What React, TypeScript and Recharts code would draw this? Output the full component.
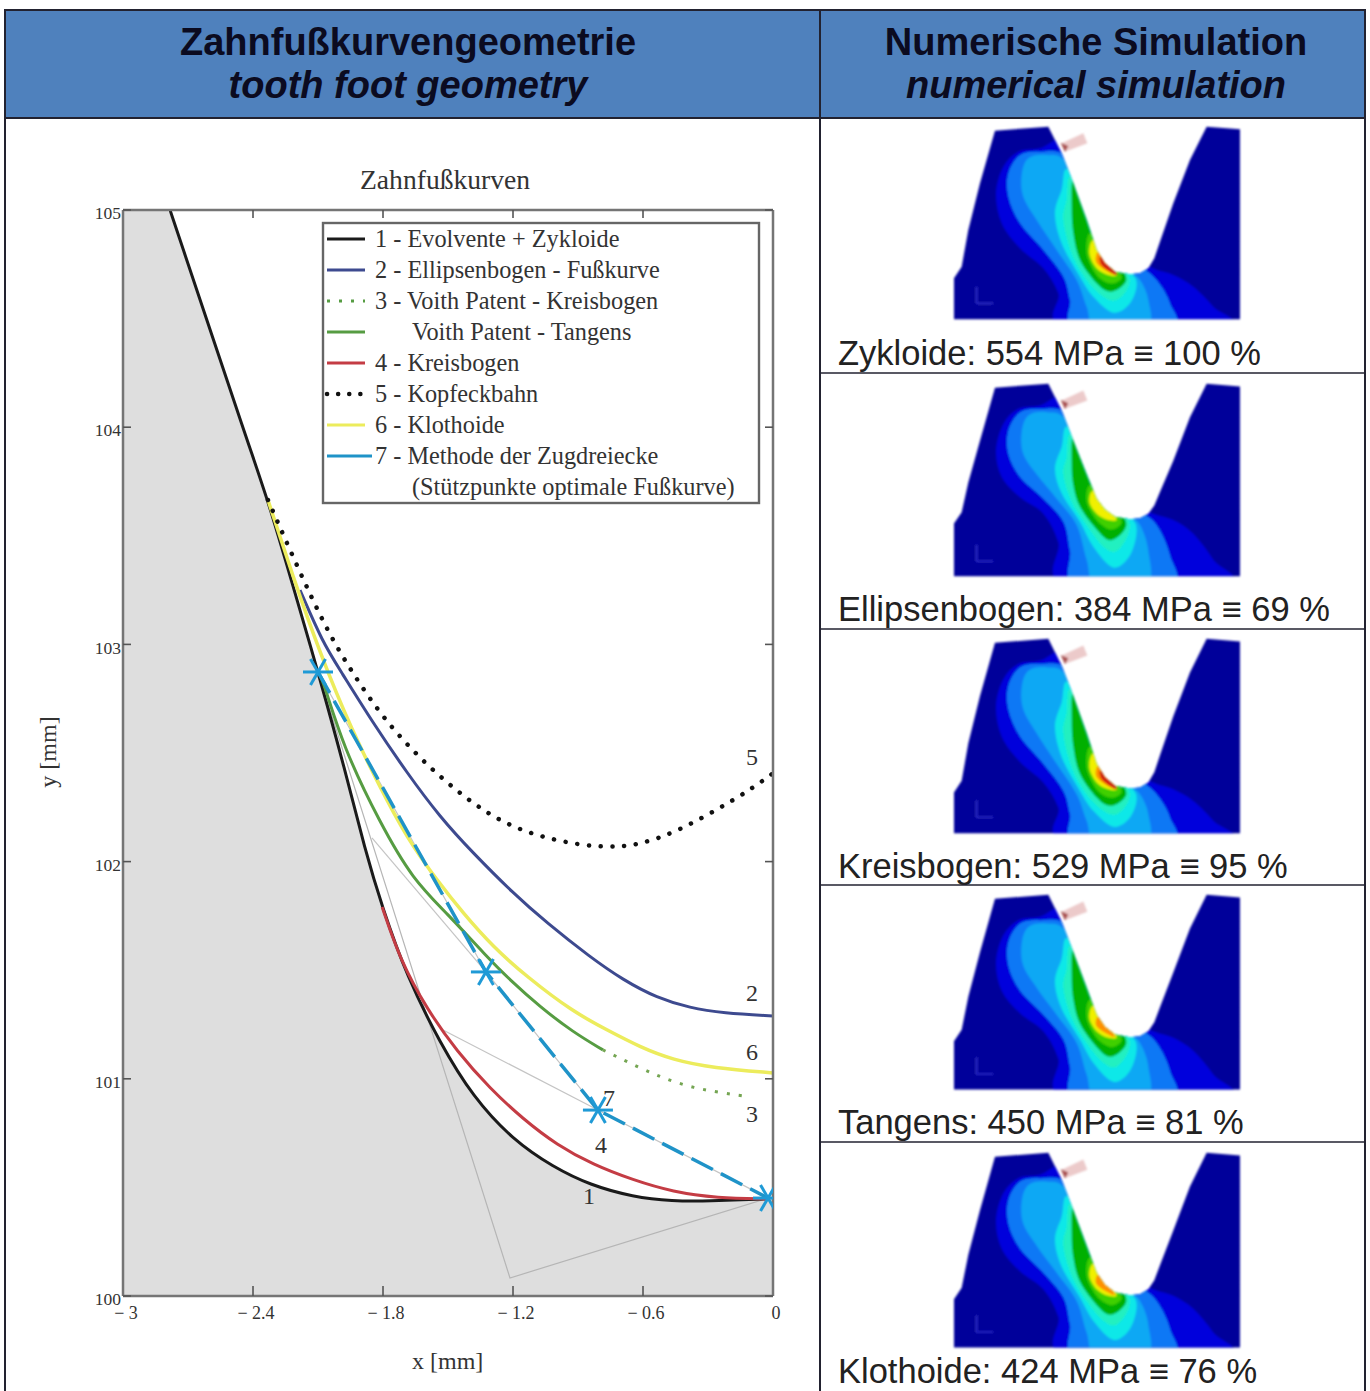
import React from 'react';
import { ComposedChart, Area, Line, Scatter, XAxis, YAxis } from 'recharts';

// curve values (x in mm, y in mm)
const zykloideX = [-2.783, -2.4, -2.331, -2.183, -2.1, -1.975, -1.883, -1.804, -1.689, -1.537, -1.385, -1.2, -1.015, -0.845, -0.646, -0.462, -0.305, -0.028];
const zykloideY = [105, 103.858, 103.665, 103.158, 102.873, 102.422, 102.053, 101.791, 101.469, 101.165, 100.916, 100.718, 100.594, 100.511, 100.456, 100.437, 100.437, 100.447];
const fillX = [-3, -2.9, -2.79, ...zykloideX, 0];
const fillY = [105, 105, 105, ...zykloideY, 100.447];

const ellipseX = [-2.183, -2.077, -1.998, -1.846, -1.689, -1.537, -1.385, -1.2, -1.043, -0.845, -0.692, -0.535, -0.383, -0.231, 0];
const ellipseY = [103.25, 103.006, 102.882, 102.638, 102.408, 102.205, 102.04, 101.855, 101.717, 101.561, 101.455, 101.372, 101.326, 101.303, 101.289];

const tangensX = [-2.1, -2.077, -1.984, -1.814, -1.661, -1.505, -1.32, -1.214, -1.075, -0.923, -0.785];
const tangensY = [102.873, 102.836, 102.528, 102.178, 101.915, 101.763, 101.561, 101.455, 101.331, 101.215, 101.133];

const voithArcX = [-0.785, -0.738, -0.614, -0.508, -0.383, -0.258, -0.106];
const voithArcY = [101.133, 101.11, 101.05, 101.004, 100.962, 100.939, 100.916];

const kreisX = [-1.804, -1.721, -1.597, -1.458, -1.306, -1.154, -0.997, -0.831, -0.646, -0.462, -0.258, -0.028];
const kreisY = [101.791, 101.547, 101.32, 101.125, 100.955, 100.815, 100.695, 100.605, 100.534, 100.479, 100.451, 100.447];

const kopfX = [-2.331, -2.197, -2.058, -1.938, -1.8, -1.62, -1.417, -1.218, -0.983, -0.775, -0.614, -0.429, -0.245, -0.106, -0.005];
const kopfY = [103.665, 103.361, 103.062, 102.864, 102.661, 102.463, 102.288, 102.159, 102.09, 102.063, 102.076, 102.145, 102.247, 102.33, 102.403];

const klothoideX = [-2.331, -2.215, -2.091, -1.952, -1.768, -1.661, -1.551, -1.431, -1.292, -1.135, -0.923, -0.766, -0.614, -0.462, -0.277, 0];
const klothoideY = [103.665, 103.31, 102.96, 102.62, 102.251, 102.067, 101.915, 101.763, 101.607, 101.469, 101.308, 101.225, 101.146, 101.087, 101.05, 101.027];

const zugX = [-2.1, -1.325, -0.808, -0.023];
const zugY = [102.873, 101.492, 100.856, 100.451];

const helpAX = [-2.1, -1.214, -0.023];
const helpAY = [102.873, 100.083, 100.451];
const helpBX = [-1.851, -1.325];
const helpBY = [102.109, 101.492];
const helpCX = [-1.523, -0.808];
const helpCY = [101.225, 100.856];

const curveTags = ['5', '2', '6', '3', '7', '4', '1'];
const curveTagX = [-0.097, -0.097, -0.097, -0.097, -0.757, -0.794, -0.849];
const curveTagY = [102.482, 101.395, 101.123, 100.838, 100.912, 100.695, 100.46];

const xTicks = [-3, -2.4, -1.8, -1.2, -0.6, 0];
const yTicks = [100, 101, 102, 103, 104, 105];

const legendLabels = [
  '1 - Evolvente + Zykloide',
  '2 - Ellipsenbogen - Fußkurve',
  '3 - Voith Patent - Kreisbogen',
  'Voith Patent - Tangens',
  '4 - Kreisbogen',
  '5 - Kopfeckbahn',
  '6 - Klothoide',
  '7 - Methode der Zugdreiecke',
  '(Stützpunkte optimale Fußkurve)',
];

const captions = [
  'Zykloide: 554 MPa ≡ 100 %',
  'Ellipsenbogen: 384 MPa ≡ 69 %',
  'Kreisbogen: 529 MPa ≡ 95 %',
  'Tangens: 450 MPa ≡ 81 %',
  'Klothoide: 424 MPa ≡ 76 %',
];

const rows = (xs: number[], ys: number[]) => xs.map((x, i) => ({ x, y: ys[i] }));

const SERIF = '"Liberation Serif", serif';
const SANS = '"Liberation Sans", Arial, sans-serif';
const LINE = '#222230';
const AXIS = '#757575';
const TEXT = '#333';

const BLACK = '#1a1a1a';
const NAVY = '#3d4a8f';
const GREEN = '#569c42';
const RED = '#c43c44';
const YELLOW = '#ecec5c';
const CYAN = '#1f93c8';

const axisPen = { stroke: AXIS, strokeWidth: 2.5 };
const tickPen = { stroke: '#555', strokeWidth: 1.6 };
const NoLabel = () => <g />;

// the asterisk used for the support points
function Star(props: any) {
  const { cx, cy } = props;
  const r = 15;
  const angles = [0, 60, 120];
  return (
    <g stroke="#1f9ad6" strokeWidth={3}>
      {angles.map((a) => {
        const dx = Math.cos((a * Math.PI) / 180) * r;
        const dy = Math.sin((a * Math.PI) / 180) * r;
        return <line key={a} x1={cx - dx} y1={cy - dy} x2={cx + dx} y2={cy + dy} />;
      })}
    </g>
  );
}

function CurveTag(props: any) {
  const { cx, cy, index } = props;
  return (
    <text x={cx} y={cy + 8} textAnchor="middle" fontFamily={SERIF} fontSize={24} fill={TEXT}>
      {curveTags[index]}
    </text>
  );
}

function LegendBox() {
  const samples = [
    { stroke: BLACK, width: 3 },
    { stroke: NAVY, width: 3 },
    { stroke: GREEN, width: 3, dash: '3 9' },
    { stroke: GREEN, width: 3 },
    { stroke: RED, width: 3 },
    { stroke: '#111', width: 4.5, dash: '0.1 11', cap: 'round' },
    { stroke: YELLOW, width: 3 },
    { stroke: CYAN, width: 3, long: true },
    null,
  ];
  return (
    <svg width={820} height={520} style={{ position: 'absolute', left: 0, top: 0 }}>
      <rect x={323} y={223} width={436} height={280} fill="#fff" stroke="#666" strokeWidth={2.4} />
      {legendLabels.map((label, i) => {
        const y = 239 + i * 31;
        const s: any = samples[i];
        const indented = i === 3 || i === 8;
        return (
          <g key={label}>
            {s && (
              <line x1={327} x2={s.long ? 372 : 365} y1={y} y2={y} stroke={s.stroke} strokeWidth={s.width}
                strokeDasharray={s.dash} strokeLinecap={s.cap} />
            )}
            <text x={indented ? 412 : 375} y={y + 8} fontFamily={SERIF} fontSize={24.3} fill={TEXT}>
              {label}
            </text>
          </g>
        );
      })}
    </svg>
  );
}

// ---- stress plots on the right (illustration, not data) ----
type Pt = [number, number];
const outline: Pt[] = [[42, 598], [42, 475], [65, 440], [85, 330], [120, 190], [165, 32], [325, 20], [365, 100], [400, 190], [440, 300], [470, 390], [495, 430], [525, 455], [570, 463], [600, 460], [625, 445], [643, 415], [660, 365], [700, 250], [750, 120], [800, 20], [900, 28], [900, 598]];
const bands: { color: string; pts: Pt[] }[] = [
  { color: '#0000dc', pts: [[380, 60], [300, 85], [235, 95], [190, 140], [168, 220], [185, 310], [240, 385], [310, 445], [355, 520], [380, 620], [860, 620], [820, 560], [760, 500], [700, 465], [640, 445], [560, 400], [450, 200]] },
  { color: '#0a78f5', pts: [[375, 110], [300, 95], [240, 105], [205, 160], [205, 230], [240, 310], [310, 390], [370, 470], [390, 540], [410, 620], [690, 620], [690, 550], [650, 480], [600, 440], [520, 400], [430, 250]] },
  { color: '#08a8f4', pts: [[380, 130], [320, 105], [265, 115], [245, 165], [250, 230], [290, 300], [350, 390], [410, 480], [440, 560], [470, 620], [620, 620], [625, 540], [600, 480], [560, 440], [470, 300]] },
  { color: '#10e8e8', pts: [[385, 150], [365, 210], [345, 280], [365, 370], [420, 470], [460, 530], [520, 578], [570, 550], [590, 490], [565, 445], [470, 300]] },
  { color: '#20f0c0', pts: [[395, 170], [380, 240], [370, 300], [395, 400], [440, 480], [490, 530], [530, 540], [565, 500], [560, 450], [480, 300]] },
  { color: '#00b000', pts: [[400, 180], [395, 260], [400, 340], [420, 420], [470, 490], [510, 515], [550, 495], [555, 462], [500, 380], [440, 250]] },
  { color: '#40d000', pts: [[450, 340], [440, 400], [470, 465], [510, 490], [540, 480], [540, 458], [490, 390]] },
  { color: '#f0f000', pts: [[460, 360], [448, 400], [470, 445], [505, 465], [530, 462], [490, 410]] },
  { color: '#ff9000', pts: [[475, 395], [468, 425], [495, 450], [525, 462], [500, 425]] },
  { color: '#d01010', pts: [[480, 410], [485, 435], [520, 462], [530, 460], [500, 425]] },
];

const warp = (pts: Pt[], lift: number): Pt[] =>
  pts.map(([x, y]) => {
    const up = Math.max(0, Math.min(1, (y - 250) / 200));
    const down = Math.max(0, Math.min(1, (610 - y) / 130));
    return [x, y + lift * up * down] as Pt;
  });

function smooth(pts: Pt[]) {
  const n = pts.length;
  let d = `M${pts[0][0]},${pts[0][1]}`;
  for (let i = 0; i < n; i++) {
    const p0 = pts[(i - 1 + n) % n];
    const p1 = pts[i];
    const p2 = pts[(i + 1) % n];
    const p3 = pts[(i + 2) % n];
    d += `C${p1[0] + (p2[0] - p0[0]) / 6},${p1[1] + (p2[1] - p0[1]) / 6} ${p2[0] - (p3[0] - p1[0]) / 6},${p2[1] - (p3[1] - p1[1]) / 6} ${p2[0]},${p2[1]}`;
  }
  return d + 'Z';
}

function StressPlot({ id, top, lift, heat, sy }: { id: number; top: number; lift: number; heat: number; sy: number }) {
  const shape = warp(outline, lift).map((p) => p.join(',')).join(' ');
  return (
    <g transform={`translate(940 ${top}) scale(0.3333 ${0.3333 * sy})`} filter="url(#soft)">
      <clipPath id={`tooth${id}`}><polygon points={shape} /></clipPath>
      <polygon points={shape} fill="#00009a" />
      <g clipPath={`url(#tooth${id})`}>
        {bands.slice(0, heat).map((b) => <path key={b.color} d={smooth(warp(b.pts, lift))} fill={b.color} />)}
      </g>
      <polygon points="365,70 430,40 442,70 375,95" fill="#eccaca" />
      <polygon points="362,68 385,78 375,96" fill="#a85050" />
      <path d="M110,500 V550 H160" fill="none" stroke="#3a3ae0" strokeWidth={3} />
    </g>
  );
}

const plots = [
  { top: 120, lift: 0, heat: 10, sy: 1 },
  { top: 377, lift: -38, heat: 8, sy: 1.005 },
  { top: 632, lift: 2, heat: 10, sy: 1.01 },
  { top: 888, lift: -22, heat: 9, sy: 1.015 },
  { top: 1146, lift: -22, heat: 9, sy: 1.015 },
];

function RightColumn() {
  const captionY = [365, 621, 878, 1134, 1383];
  const rules = [373, 629, 885, 1142];
  return (
    <svg width={1370} height={1391} style={{ position: 'absolute', left: 0, top: 0, pointerEvents: 'none' }}>
      <defs>
        <filter id="soft" x="-5%" y="-5%" width="110%" height="110%"><feGaussianBlur stdDeviation="2.4" /></filter>
      </defs>
      {plots.map((p, i) => <StressPlot key={i} id={i} {...p} />)}
      {captions.map((c, i) => (
        <text key={c} x={838} y={captionY[i]} fontFamily={SANS} fontSize={34.5} fill="#222">{c}</text>
      ))}
      {rules.map((y) => <line key={y} x1={820} x2={1365} y1={y} y2={y} stroke={LINE} strokeWidth={1.6} />)}
    </svg>
  );
}

function HeaderCell({ left, width, de, en }: { left: number; width: number; de: string; en: string }) {
  const base: React.CSSProperties = { position: 'absolute', left, width, textAlign: 'center', fontFamily: SANS, fontSize: 38, fontWeight: 700, color: '#0b0b20', lineHeight: '44px' };
  return (
    <>
      <div style={{ ...base, top: 20 }}>{de}</div>
      <div style={{ ...base, top: 63, fontStyle: 'italic' }}>{en}</div>
    </>
  );
}

export default function App() {
  const label: React.CSSProperties = { position: 'absolute', fontFamily: SERIF, color: TEXT, whiteSpace: 'nowrap' };
  return (
    <div style={{ position: 'absolute', left: 0, top: 0, width: 1370, height: 1391, overflow: 'hidden', background: '#fff' }}>
      {/* table frame */}
      <div style={{ position: 'absolute', left: 4, top: 9, width: 1361, height: 110, background: '#4f81bd', borderTop: `2px solid ${LINE}`, borderBottom: `2px solid ${LINE}`, boxSizing: 'border-box' }} />
      <div style={{ position: 'absolute', left: 4, top: 9, width: 2, height: 1382, background: LINE }} />
      <div style={{ position: 'absolute', left: 1364, top: 9, width: 2, height: 1382, background: LINE }} />
      <div style={{ position: 'absolute', left: 819, top: 9, width: 2, height: 1382, background: LINE }} />
      <HeaderCell left={6} width={804} de="Zahnfußkurvengeometrie" en="tooth foot geometry" />
      <HeaderCell left={821} width={550} de="Numerische Simulation" en="numerical simulation" />

      {/* chart */}
      <div style={{ position: 'absolute', left: 0, top: 0 }}>
        <ComposedChart width={819} height={1391} margin={{ top: 200, right: 36, bottom: 65, left: 73 }}>
          <XAxis xAxisId={0} dataKey="x" type="number" domain={[-3, 0]} ticks={xTicks} height={30} orientation="bottom"
            allowDataOverflow axisLine={axisPen} tickLine={tickPen} tickSize={-10} tickMargin={20}
            tick={{ fill: TEXT, fontFamily: SERIF, fontSize: 18, dx: 3 }}
            tickFormatter={(v: number) => (v === 0 ? '0' : `− ${Math.abs(v)}`)} interval={0} />
          <XAxis xAxisId="top" dataKey="x" type="number" domain={[-3, 0]} ticks={xTicks} height={10} orientation="top"
            allowDataOverflow axisLine={axisPen} tickLine={tickPen} tickSize={-8} tick={NoLabel} interval={0} />
          <YAxis yAxisId={0} dataKey="y" type="number" domain={[100, 105]} ticks={yTicks} width={50}
            allowDataOverflow axisLine={axisPen} tickLine={tickPen} tickSize={-8} tickMargin={10}
            tick={{ fill: TEXT, fontFamily: SERIF, fontSize: 17.5, dy: 3 }} interval={0} />
          <YAxis yAxisId="right" dataKey="y" type="number" domain={[100, 105]} ticks={yTicks} width={10} orientation="right"
            allowDataOverflow axisLine={axisPen} tickLine={tickPen} tickSize={-8} tick={NoLabel} interval={0} />

          <Area data={rows(fillX, fillY)} dataKey="y" type="basis" baseValue={100} fill="#dedede" fillOpacity={1} stroke="none" isAnimationActive={false} dot={false} activeDot={false} />
          <Line data={rows(helpAX, helpAY)} dataKey="y" type="linear" stroke="#b5b5b5" strokeWidth={1.2} dot={false} isAnimationActive={false} />
          <Line data={rows(helpBX, helpBY)} dataKey="y" type="linear" stroke="#c4c4c4" strokeWidth={1.2} dot={false} isAnimationActive={false} />
          <Line data={rows(helpCX, helpCY)} dataKey="y" type="linear" stroke="#c4c4c4" strokeWidth={1.2} dot={false} isAnimationActive={false} />
          <Line data={rows(zugX, zugY)} dataKey="y" type="linear" stroke="#c4c4c4" strokeWidth={1.2} dot={false} isAnimationActive={false} />
          <Line data={rows(zykloideX, zykloideY)} dataKey="y" type="basis" stroke={BLACK} strokeWidth={3} dot={false} isAnimationActive={false} />
          <Line data={rows(ellipseX, ellipseY)} dataKey="y" type="basis" stroke={NAVY} strokeWidth={3} dot={false} isAnimationActive={false} />
          <Line data={rows(klothoideX, klothoideY)} dataKey="y" type="basis" stroke={YELLOW} strokeWidth={3.5} dot={false} isAnimationActive={false} />
          <Line data={rows(tangensX, tangensY)} dataKey="y" type="basis" stroke={GREEN} strokeWidth={3} dot={false} isAnimationActive={false} />
          <Line data={rows(voithArcX, voithArcY)} dataKey="y" type="basis" stroke="#74a552" strokeWidth={3} strokeDasharray="3 9" dot={false} isAnimationActive={false} />
          <Line data={rows(kreisX, kreisY)} dataKey="y" type="basis" stroke={RED} strokeWidth={3} dot={false} isAnimationActive={false} />
          <Line data={rows(kopfX, kopfY)} dataKey="y" type="basis" stroke="#111" strokeWidth={4.5} strokeDasharray="0.1 11.7" strokeLinecap="round" dot={false} isAnimationActive={false} />
          <Line data={rows(zugX, zugY)} dataKey="y" type="linear" stroke={CYAN} strokeWidth={3.5} strokeDasharray="24 9" dot={false} isAnimationActive={false} />
          <Scatter data={rows(zugX, zugY)} dataKey="y" shape={<Star />} isAnimationActive={false} />
          <Scatter data={rows(curveTagX, curveTagY)} dataKey="y" shape={<CurveTag />} isAnimationActive={false} />
        </ComposedChart>
      </div>

      <LegendBox />
      <div style={{ ...label, left: 360, top: 164, fontSize: 27.6 }}>Zahnfußkurven</div>
      <div style={{ ...label, left: 412, top: 1348, fontSize: 24 }}>x [mm]</div>
      <div style={{ ...label, left: 48, top: 752, fontSize: 24, transform: 'translate(-50%, -50%) rotate(-90deg)' }}>y [mm]</div>

      <RightColumn />
    </div>
  );
}
